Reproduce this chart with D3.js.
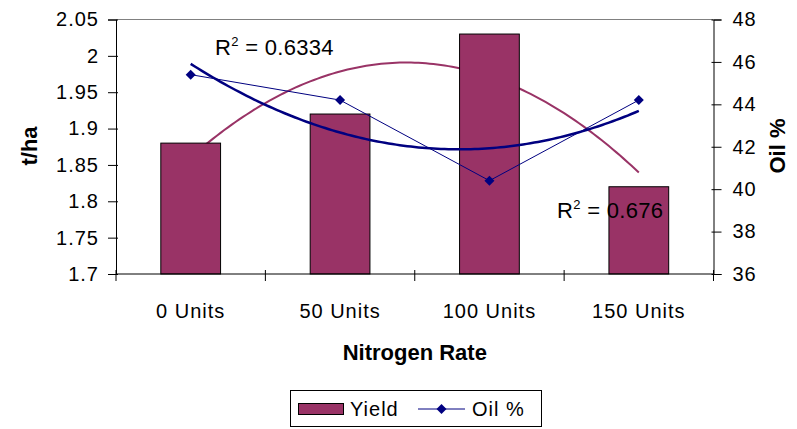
<!DOCTYPE html>
<html>
<head>
<meta charset="utf-8">
<script src="https://cdn.jsdelivr.net/npm/d3@7"></script>
<style>
  html, body { margin: 0; padding: 0; background: #fff; }
  svg { display: block; font-family: "Liberation Sans", Arial, sans-serif; }
</style>
</head>
<body>
<svg id="chart" width="797" height="429"></svg>
<script>
// Nitrogen rate trial: grain yield (bars, left axis) and oil content (line, right axis)
const categories = ["0 Units", "50 Units", "100 Units", "150 Units"];
const yieldValues = [1.88, 1.92, 2.03, 1.82];
const oilValues = [45.4, 44.2, 40.4, 44.2];
const yieldTicks = [1.7, 1.75, 1.8, 1.85, 1.9, 1.95, 2, 2.05];
const oilTicks = [36, 38, 40, 42, 44, 46, 48];

const maroon = "#993366";
const navy = "#000080";

const svg = d3.select("#chart");
const plot = { left: 116, right: 713.5, top: 19.5, bottom: 274 };

const x = d3.scaleBand().domain(categories).range([plot.left, plot.right]).paddingInner(0).paddingOuter(0);
const yL = d3.scaleLinear().domain([1.7, 2.05]).range([plot.bottom, plot.top]);
const yR = d3.scaleLinear().domain([36, 48]).range([plot.bottom, plot.top]);
const cx = c => x(c) + x.bandwidth() / 2;

// Second-order polynomial least-squares fit on category index 1..n
function polyFit2(ys) {
  const xs = ys.map((_, i) => i + 1);
  const n = ys.length;
  const S = k => d3.sum(xs, v => Math.pow(v, k));
  const T = k => d3.sum(xs, (v, i) => Math.pow(v, k) * ys[i]);
  const A = [[n, S(1), S(2), T(0)], [S(1), S(2), S(3), T(1)], [S(2), S(3), S(4), T(2)]];
  for (let i = 0; i < 3; i++) {
    for (let j = i + 1; j < 3; j++) {
      const f = A[j][i] / A[i][i];
      for (let k = i; k < 4; k++) A[j][k] -= f * A[i][k];
    }
  }
  const c = [0, 0, 0];
  for (let i = 2; i >= 0; i--) {
    let s = A[i][3];
    for (let k = i + 1; k < 3; k++) s -= A[i][k] * c[k];
    c[i] = s / A[i][i];
  }
  const f = t => c[0] + c[1] * t + c[2] * t * t;
  const mean = d3.mean(ys);
  const ssTot = d3.sum(ys, v => (v - mean) ** 2);
  const ssRes = d3.sum(ys, (v, i) => (v - f(i + 1)) ** 2);
  return { f, r2: 1 - ssRes / ssTot };
}

const yieldFit = polyFit2(yieldValues);
const oilFit = polyFit2(oilValues);
const nPts = categories.length;
const idxToPx = d3.scaleLinear().domain([1, nPts]).range([cx(categories[0]), cx(categories[nPts - 1])]);
const samples = d3.range(0, 121).map(i => 1 + (nPts - 1) * i / 120);

// plot frame top border
svg.append("line")
  .attr("x1", plot.left).attr("x2", plot.right)
  .attr("y1", plot.top).attr("y2", plot.top)
  .attr("stroke", "#808080").attr("stroke-width", 1);

// yield trendline sits behind the bars
svg.append("path")
  .datum(samples)
  .attr("fill", "none")
  .attr("stroke", maroon)
  .attr("stroke-width", 2)
  .attr("d", d3.line().x(t => idxToPx(t)).y(t => yL(yieldFit.f(t))));

// yield bars
const barW = x.bandwidth() * 0.4;
svg.append("g").selectAll("rect")
  .data(categories)
  .join("rect")
  .attr("x", c => cx(c) - barW / 2)
  .attr("width", barW)
  .attr("y", (c, i) => yL(yieldValues[i]))
  .attr("height", (c, i) => yL(1.7) - yL(yieldValues[i]))
  .attr("fill", maroon)
  .attr("stroke", "#000")
  .attr("stroke-width", 1);

// oil trendline
svg.append("path")
  .datum(samples)
  .attr("fill", "none")
  .attr("stroke", navy)
  .attr("stroke-width", 2.5)
  .attr("d", d3.line().x(t => idxToPx(t)).y(t => yR(oilFit.f(t))));

// oil series
svg.append("path")
  .datum(oilValues)
  .attr("fill", "none")
  .attr("stroke", navy)
  .attr("stroke-width", 1)
  .attr("d", d3.line().x((v, i) => cx(categories[i])).y(v => yR(v)));

const diamond = "M0,-5L5,0L0,5L-5,0Z";
svg.append("g").selectAll("path")
  .data(oilValues)
  .join("path")
  .attr("d", diamond)
  .attr("transform", (v, i) => `translate(${cx(categories[i])},${yR(v)})`)
  .attr("fill", navy);

// axes
const axisStyle = g => {
  g.select(".domain").attr("stroke", "#000");
  g.selectAll(".tick line").attr("stroke", "#000");
  g.selectAll(".tick text").attr("fill", "#000").attr("font-size", 20)
    .attr("letter-spacing", 1)
    .attr("font-family", "'Liberation Sans', Arial, sans-serif");
};

svg.append("g")
  .attr("transform", `translate(${plot.left},0)`)
  .call(d3.axisLeft(yL).tickValues(yieldTicks).tickFormat(d3.format("~g")).tickSizeOuter(0).tickSize(8).tickPadding(9))
  .call(axisStyle)
  .call(g => g.selectAll(".tick line").attr("x2", -8).attr("x1", 2));

svg.append("g")
  .attr("transform", `translate(${plot.right},0)`)
  .call(d3.axisRight(yR).tickValues(oilTicks).tickSizeOuter(0).tickSize(8).tickPadding(11))
  .call(axisStyle)
  .call(g => g.selectAll(".tick line").attr("x1", -2).attr("x2", 8));

// category axis: ticks on band boundaries
const xAxis = svg.append("g").attr("transform", `translate(0,${plot.bottom})`);
xAxis.append("line")
  .attr("x1", plot.left).attr("x2", plot.right)
  .attr("stroke", "#000");
const boundaries = categories.map(c => x(c)).concat([plot.right]);
xAxis.selectAll("line.tick")
  .data(boundaries)
  .join("line")
  .attr("class", "tick")
  .attr("x1", d => d).attr("x2", d => d)
  .attr("y1", -4).attr("y2", 7)
  .attr("stroke", "#000");
xAxis.selectAll("text")
  .data(categories)
  .join("text")
  .attr("x", c => cx(c))
  .attr("y", 44)
  .attr("text-anchor", "middle")
  .attr("font-size", 20)
  .attr("letter-spacing", 1)
  .text(c => c);

// axis titles
svg.append("text")
  .attr("x", (plot.left + plot.right) / 2)
  .attr("y", 360)
  .attr("text-anchor", "middle")
  .attr("font-size", 22)
  .attr("font-weight", "bold")
  .text("Nitrogen Rate");

svg.append("text")
  .attr("transform", "translate(37,146) rotate(-90)")
  .attr("text-anchor", "middle")
  .attr("font-size", 22)
  .attr("font-weight", "bold")
  .text("t/ha");

svg.append("text")
  .attr("transform", "translate(785,146) rotate(-90)")
  .attr("text-anchor", "middle")
  .attr("font-size", 22)
  .attr("font-weight", "bold")
  .text("Oil %");

// R² labels for the fitted curves
const r2fmt = d3.format(".4~f");
function r2Label(px, py, r2) {
  const t = svg.append("text").attr("x", px).attr("y", py).attr("font-size", 22)
    .attr("letter-spacing", 0.3);
  t.append("tspan").text("R");
  t.append("tspan").attr("font-size", 13).attr("dy", -9).text("2");
  t.append("tspan").attr("dy", 9).text(" = " + r2fmt(r2));
}
r2Label(215, 55, oilFit.r2);
r2Label(557, 218, yieldFit.r2);

// legend
const lg = svg.append("g");
lg.append("rect")
  .attr("x", 290.5).attr("y", 390.5)
  .attr("width", 251).attr("height", 36)
  .attr("fill", "#fff").attr("stroke", "#000");
lg.append("rect")
  .attr("x", 298.5).attr("y", 403.5)
  .attr("width", 45).attr("height", 11)
  .attr("fill", maroon).attr("stroke", "#000");
lg.append("text").attr("x", 350).attr("y", 416).attr("font-size", 20)
  .attr("letter-spacing", 1).text("Yield");
lg.append("line")
  .attr("x1", 418).attr("x2", 465).attr("y1", 409).attr("y2", 409)
  .attr("stroke", navy).attr("stroke-width", 1);
lg.append("path").attr("d", diamond).attr("transform", "translate(441.5,409)").attr("fill", navy);
lg.append("text").attr("x", 472).attr("y", 416).attr("font-size", 20)
  .attr("letter-spacing", 1).text("Oil %");
</script>
</body>
</html>
